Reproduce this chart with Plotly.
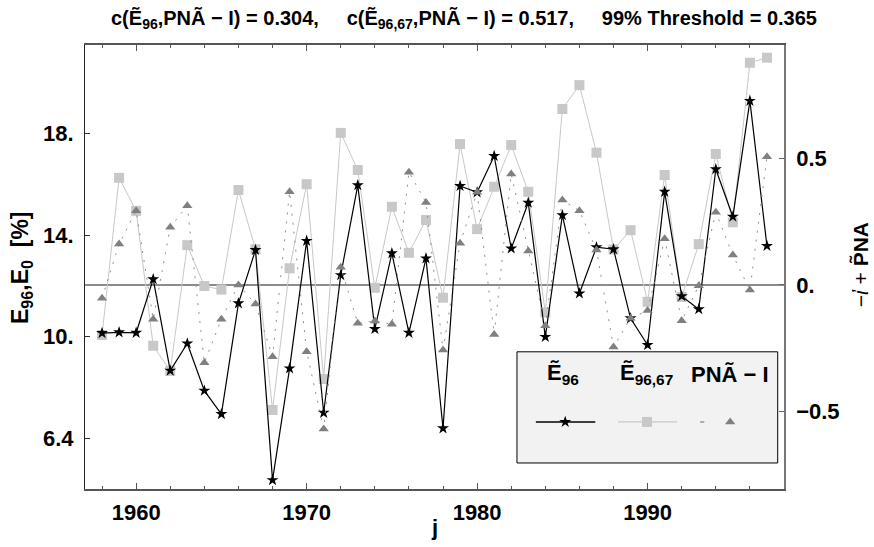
import plotly.graph_objects as go

years = list(range(1958, 1998))
e96 = [10.14, 10.17, 10.15, 12.26, 8.66, 9.73, 7.87, 6.95, 11.31, 13.41,
       4.35, 8.75, 13.77, 7.00, 12.42, 15.96, 10.30, 13.28, 10.15, 13.08,
       6.39, 15.93, 15.68, 17.11, 13.47, 15.27, 9.99, 14.78, 11.70, 13.52,
       13.44, 10.72, 9.67, 15.70, 11.59, 11.08, 16.59, 14.72, 19.28, 13.57]
e96_67 = [10.06, 16.25, 14.95, 9.64, 8.65, 13.60, 11.99, 11.85, 15.77, 13.44,
          7.11, 12.69, 16.00, 8.33, 18.02, 16.56, 11.92, 15.11, 13.30, 14.59,
          11.53, 17.58, 14.23, 15.90, 17.54, 15.70, 10.95, 18.96, 19.90, 17.24,
          13.43, 14.19, 11.37, 16.36, 11.56, 13.64, 17.19, 14.50, 20.78, 20.98]
pna = [-0.052, 0.162, 0.293, -0.135, 0.228, 0.313, -0.307, -0.135, 0.000, -0.075,
       -0.283, 0.368, -0.263, -0.568, 0.070, -0.151, -0.142, -0.155, 0.445, 0.326,
       -0.257, 0.165, 0.366, -0.195, 0.438, 0.134, -0.161, 0.335, 0.293, 0.138,
       -0.245, -0.131, -0.101, 0.182, -0.141, -0.003, 0.287, 0.118, -0.020, 0.506]

x_ticks = [1960, 1970, 1980, 1990]
left_tickvals = [6, 10, 14, 18]
left_ticktext = ["6.4", "10.", "14.", "18."]
right_tickvals = [-0.5, 0, 0.5]
right_ticktext = ["\u22120.5", "0.", "0.5"]

FONT = "Liberation Sans"
BLACK = "#000000"
LIGHT = "#c8c8c8"
DARK = "#808080"
sp = "\u00a0" * 5

fig = go.Figure()

# data traces
fig.add_trace(go.Scatter(x=years, y=pna, yaxis="y2", mode="lines+markers",
                         line=dict(color="#909090", width=1, dash="2px,7px"),
                         marker=dict(symbol="triangle-up", size=9, color=DARK),
                         showlegend=False))
fig.add_trace(go.Scatter(x=years, y=e96_67, mode="lines+markers",
                         line=dict(color=LIGHT, width=1),
                         marker=dict(symbol="square", size=10, color=LIGHT),
                         showlegend=False))
fig.add_trace(go.Scatter(x=years, y=e96, mode="lines+markers",
                         line=dict(color=BLACK, width=1.2),
                         marker=dict(symbol="star", size=9, color=BLACK),
                         showlegend=False))

# custom legend (overlay axes in 0..1 plot-fraction units)
leg_y = 0.151
fig.add_trace(go.Scatter(x=[0.645, 0.730], y=[leg_y, leg_y], xaxis="x2", yaxis="y3",
                         mode="lines", line=dict(color=BLACK, width=1.5), showlegend=False))
fig.add_trace(go.Scatter(x=[0.687], y=[leg_y], xaxis="x2", yaxis="y3", mode="markers",
                         marker=dict(symbol="star", size=9, color=BLACK), showlegend=False))
fig.add_trace(go.Scatter(x=[0.7625, 0.847], y=[leg_y, leg_y], xaxis="x2", yaxis="y3",
                         mode="lines", line=dict(color=LIGHT, width=1.2), showlegend=False))
fig.add_trace(go.Scatter(x=[0.804], y=[leg_y], xaxis="x2", yaxis="y3", mode="markers",
                         marker=dict(symbol="square", size=10, color=LIGHT), showlegend=False))
fig.add_trace(go.Scatter(x=[0.880, 0.886], y=[leg_y, leg_y], xaxis="x2", yaxis="y3",
                         mode="lines", line=dict(color=DARK, width=1.2), showlegend=False))
fig.add_trace(go.Scatter(x=[0.923], y=[leg_y], xaxis="x2", yaxis="y3", mode="markers",
                         marker=dict(symbol="triangle-up", size=9, color=DARK), showlegend=False))

shapes = [
    dict(type="line", xref="paper", yref="y2", x0=0, x1=1, y0=0, y1=0,
         line=dict(color="#666666", width=1.5), layer="below"),
    dict(type="rect", xref="paper", yref="paper", x0=0.618, x1=0.991, y0=0.0586, y1=0.309,
         fillcolor="#f2f2f2", line=dict(color="#000000", width=1), layer="below"),
]

bold = dict(family=FONT, size=20, color="#000000", weight="bold")
tickf = dict(family=FONT, size=22, color="#000000", weight="bold")
annotations = [
    dict(text="c(Ẽ<sub>96</sub>,PNÃ − I) = 0.304," + sp + "c(Ẽ<sub>96,67</sub>,PNÃ − I) = 0.517," + sp + "99% Threshold = 0.365",
         xref="paper", yref="paper", x=0.542, y=1.058, showarrow=False,
         xanchor="center", yanchor="middle", font=bold),
    dict(text="j", xref="paper", yref="paper", x=0.5, y=-0.086, showarrow=False,
         xanchor="center", yanchor="middle", font=dict(bold, size=22)),
    dict(text="E<sub>96</sub>,E<sub>0</sub>\u00a0\u00a0[%]", xref="paper", yref="paper", x=-0.0916, y=0.5,
         textangle=-90, showarrow=False, xanchor="center", yanchor="middle",
         font=dict(bold, size=23)),
    dict(text="\u2212<i>ἰ</i> + <b>P̃NA</b>", xref="paper", yref="paper", x=1.109, y=0.5045,
         textangle=-90, showarrow=False, xanchor="center", yanchor="middle",
         font=dict(family=FONT, size=21, color="#000000")),
    dict(text="Ẽ<sub>96</sub>", xref="paper", yref="paper", x=0.684, y=0.259, showarrow=False,
         xanchor="center", yanchor="middle", font=dict(bold, size=22)),
    dict(text="Ẽ<sub>96,67</sub>", xref="paper", yref="paper", x=0.804, y=0.259, showarrow=False,
         xanchor="center", yanchor="middle", font=dict(bold, size=22)),
    dict(text="PNÃ − I", xref="paper", yref="paper", x=0.923, y=0.259, showarrow=False,
         xanchor="center", yanchor="middle", font=dict(bold, size=22)),
]

fig.update_layout(
    width=874, height=547,
    margin=dict(l=85, r=90, t=45, b=58),
    paper_bgcolor="white", plot_bgcolor="white",
    showlegend=False,
    shapes=shapes, annotations=annotations,
    xaxis=dict(range=[1957, 1998], tickvals=x_ticks, ticks="inside", ticklen=6,
               tickcolor="#555555", showline=True, linecolor="#555555", linewidth=1.5,
               mirror="ticks", showgrid=False, zeroline=False,
               tickfont=tickf, ticklabelstandoff=3,
               minor=dict(dtick=2, tick0=1958, ticks="inside", ticklen=3,
                          tickcolor="#555555", showgrid=False)),
    yaxis=dict(range=[4.0, 21.48], tickvals=left_tickvals, ticktext=left_ticktext,
               ticks="inside", ticklen=5, tickcolor="#333333",
               showline=True, linecolor="#222222", linewidth=1.2,
               showgrid=False, zeroline=False, tickfont=tickf, ticklabelstandoff=6),
    yaxis2=dict(range=[-0.805, 0.947], overlaying="y", side="right",
                tickvals=right_tickvals, ticktext=right_ticktext,
                ticks="inside", ticklen=5, tickcolor="#666666",
                showline=True, linecolor="#777777", linewidth=1.5,
                showgrid=False, zeroline=False, tickfont=tickf, ticklabelstandoff=6),
    xaxis2=dict(range=[0, 1], overlaying="x", anchor="y3", visible=False),
    yaxis3=dict(range=[0, 1], overlaying="y", anchor="x2", visible=False),
)

fig.write_html("out.html")
